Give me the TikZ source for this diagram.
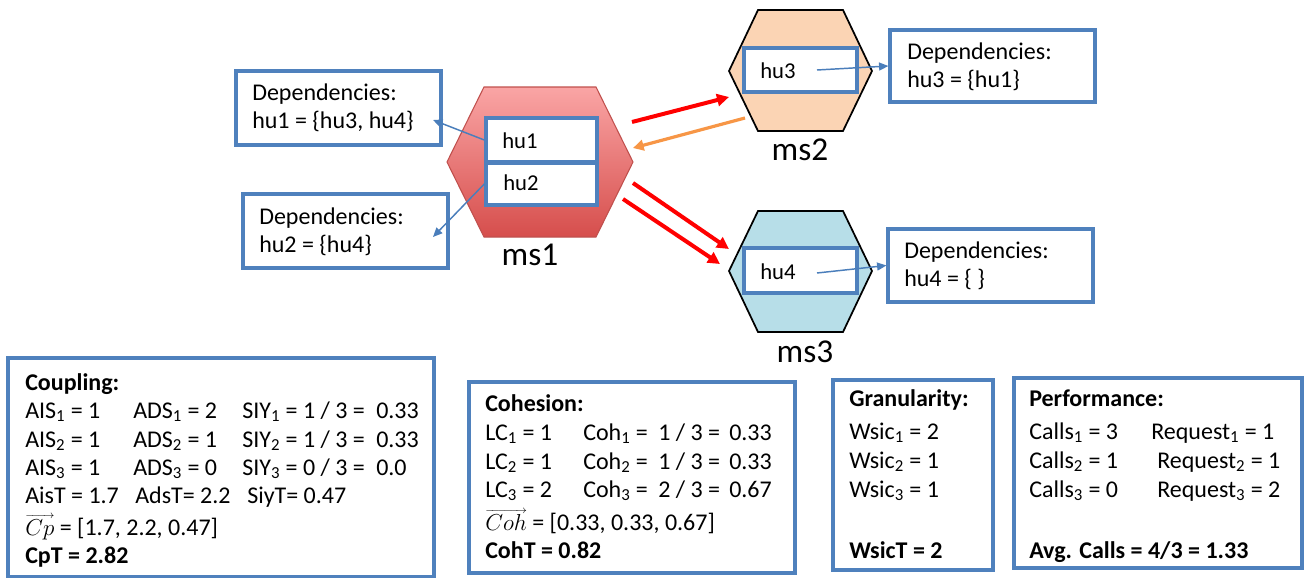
\documentclass[tikz,border=0pt]{standalone}
\usepackage{fontspec}
\setmainfont{Carlito}
\usetikzlibrary{arrows.meta,fit}
\definecolor{boxblue}{RGB}{79,129,189}
\definecolor{linkblue}{RGB}{74,126,187}
\definecolor{callred}{RGB}{255,0,0}
\definecolor{replyorange}{RGB}{247,150,70}
\definecolor{msonetop}{RGB}{250,165,165}
\definecolor{msonebot}{RGB}{214,78,76}
\definecolor{msoneline}{RGB}{192,80,77}
\definecolor{mstwofill}{RGB}{251,212,180}
\definecolor{msthreefill}{RGB}{183,222,232}
% vector symbol: italic letters with a thin arrow set close above them
\newcommand{\vecsym}[1]{\begingroup
  \setbox0\hbox{$#1$}%
  \hbox{\rlap{\raisebox{\dimexpr\ht0+0.2pt\relax}{\hbox to \wd0{\fontsize{8}{8}\selectfont\rightarrowfill}}}\box0}%
  \endgroup}
\begin{document}
\begin{tikzpicture}[x=0.75pt,y=-0.75pt,
  txt/.style={inner sep=0pt,anchor=base west,font=\fontsize{18}{21}\selectfont},
  txtb/.style={txt,font=\fontsize{18}{21}\selectfont\bfseries},
  hutxt/.style={inner sep=0pt,anchor=base west,font=\fontsize{17}{20}\selectfont},
  mstxt/.style={inner sep=0pt,anchor=base,font=\fontsize{25}{28}\selectfont},
  panel/.style={draw=boxblue,line width=2.4pt,fill=white,inner sep=0pt},
  hubox/.style={draw=boxblue,line width=2.6pt,fill=white,inner sep=0pt},
  link/.style={draw=linkblue,line width=1.1pt,-{Triangle[length=7pt,width=6pt]}},
  call/.style={draw=callred,line width=3pt,-{Triangle[length=9pt,width=9pt]}},
  reply/.style={draw=replyorange,line width=2.4pt,-{Triangle[length=8pt,width=8pt]}},
  hexline/.style={draw=black,line width=1.3pt}]
\useasboundingbox (0,0) rectangle (1304,578);

% ---- microservices (hexagons) ----
\path[top color=msonetop,bottom color=msonebot,draw=msoneline,line width=0.8pt]
  (447,162) -- (484,87) -- (596,87) -- (633,162) -- (596,237) -- (484,237) -- cycle;
\path[hexline,fill=mstwofill]
  (729,71) -- (758,10) -- (843,10) -- (872,71) -- (843,131) -- (758,131) -- cycle;
\path[hexline,fill=msthreefill]
  (729,271) -- (758,211) -- (843,211) -- (872,271) -- (843,332) -- (758,332) -- cycle;

\node[mstxt] (ms1) at (530,265) {ms1};
\node[mstxt] (ms2) at (800,160) {ms2};
\node[mstxt] (ms3) at (805,362) {ms3};

% ---- handled units inside the microservices ----
\node[hubox,fit={(486,118)(597,162)}] (hu1) {};
\node[hubox,fit={(486,163)(597,205)}] (hu2) {};
\node[hubox,fit={(744,48)(857,92)}] (hu3) {};
\node[hubox,fit={(744,248)(857,293)}] (hu4) {};
\node[hutxt] (hu1t) at (502,148) {hu1};
\node[hutxt] (hu2t) at (503,190) {hu2};
\node[hutxt] (hu3t) at (760,78) {hu3};
\node[hutxt] (hu4t) at (760,279) {hu4};

% ---- dependency boxes ----
\node[panel,fit={(236,71)(441,145)}] (dep1) {};
\node[txt] (dep1a) at (252,100) {Dependencies:};
\node[txt] (dep1b) at (252,128) {hu1 = \{hu3, hu4\}};

\node[panel,fit={(243,194)(448,268)}] (dep2) {};
\node[txt] (dep2a) at (259,224) {Dependencies:};
\node[txt] (dep2b) at (259,252) {hu2 = \{hu4\}};

\node[panel,fit={(890,30)(1095,102)}] (dep3) {};
\node[txt] (dep3a) at (907,59) {Dependencies:};
\node[txt] (dep3b) at (907,87) {hu3 = \{hu1\}};

\node[panel,fit={(888,229)(1093,302)}] (dep4) {};
\node[txt] (dep4a) at (904,258) {Dependencies:};
\node[txt] (dep4b) at (904,286) {hu4 = \{ \}};

% ---- dependency links ----
\coordinate (d1tip) at (433,120);
\coordinate (d2tip) at (433,237);
\coordinate (hu3src) at (817,70);
\coordinate (hu4src) at (817,273);
\draw[link] (hu1.west) -- (d1tip);
\draw[link] (hu2.west) -- (d2tip);
\draw[link] (hu3src) -- (dep3.west);
\draw[link] (hu4src) -- (dep4.west);

% ---- calls between microservices ----
\coordinate (c1s) at (632,122);  \coordinate (c1e) at (729,97);
\coordinate (r1s) at (745,118);  \coordinate (r1e) at (633,148);
\coordinate (c2s) at (633,183);  \coordinate (c2e) at (729,249);
\coordinate (c3s) at (623,199);  \coordinate (c3e) at (720,264);
\draw[call] (c1s) -- (c1e);
\draw[reply] (r1s) -- (r1e);
\draw[call] (c2s) -- (c2e);
\draw[call] (c3s) -- (c3e);

% ---- coupling ----
\node[panel,fit={(8,358)(434,577)}] (coupling) {};
\node[txtb] (cplh) at (25,390) {Coupling:};
\node[txt] (ais1) at (25,418) {AIS\textsubscript{1} = 1};
\node[txt] (ads1) at (133,418) {ADS\textsubscript{1} = 2};
\node[txt] (siy1) at (242,418) {SIY\textsubscript{1} = 1 / 3 =};
\node[txt] (siy1v) at (376,418) {0.33};
\node[txt] (ais2) at (25,447) {AIS\textsubscript{2} = 1};
\node[txt] (ads2) at (133,447) {ADS\textsubscript{2} = 1};
\node[txt] (siy2) at (242,447) {SIY\textsubscript{2} = 1 / 3 =};
\node[txt] (siy2v) at (376,447) {0.33};
\node[txt] (ais3) at (25,475) {AIS\textsubscript{3} = 1};
\node[txt] (ads3) at (133,475) {ADS\textsubscript{3} = 0};
\node[txt] (siy3) at (242,475) {SIY\textsubscript{3} = 0 / 3 =};
\node[txt] (siy3v) at (376,475) {0.0};
\node[txt] (aist) at (25,503) {AisT = 1.7};
\node[txt] (adst) at (135,503) {AdsT= 2.2};
\node[txt] (siyt) at (247,503) {SiyT= 0.47};
\node[txt] (cpvec) at (25,535) {\vecsym{Cp} = [1.7, 2.2, 0.47]};
\node[txtb] (cpt) at (25,563) {CpT = 2.82};

% ---- cohesion ----
\node[panel,fit={(469,382)(795,573)}] (cohesion) {};
\node[txtb] (cohh) at (485,411) {Cohesion:};
\node[txt] (lc1) at (485,440) {LC\textsubscript{1} = 1};
\node[txt] (coh1) at (583,440) {Coh\textsubscript{1} =};
\node[txt] (coh1f) at (658,440) {1 / 3 =};
\node[txt] (coh1v) at (729,440) {0.33};
\node[txt] (lc2) at (485,469) {LC\textsubscript{2} = 1};
\node[txt] (coh2) at (583,469) {Coh\textsubscript{2} =};
\node[txt] (coh2f) at (658,469) {1 / 3 =};
\node[txt] (coh2v) at (729,469) {0.33};
\node[txt] (lc3) at (485,497) {LC\textsubscript{3} = 2};
\node[txt] (coh3) at (583,497) {Coh\textsubscript{3} =};
\node[txt] (coh3f) at (658,497) {2 / 3 =};
\node[txt] (coh3v) at (729,497) {0.67};
\node[txt] (cohvec) at (485,530) {\vecsym{Coh} = [0.33, 0.33, 0.67]};
\node[txtb] (coht) at (485,558) {CohT = 0.82};

% ---- granularity ----
\node[panel,fit={(833,380)(993,570)}] (granularity) {};
\node[txtb] (grh) at (849,406) {Granularity:};
\node[txt] (ws1) at (849,439) {Wsic\textsubscript{1} = 2};
\node[txt] (ws2) at (849,468) {Wsic\textsubscript{2} = 1};
\node[txt] (ws3) at (849,497) {Wsic\textsubscript{3} = 1};
\node[txtb] (wst) at (849,558) {WsicT = 2};

% ---- performance ----
\node[panel,fit={(1014,378)(1302,568)}] (performance) {};
\node[txtb] (pfh) at (1029,406) {Performance:};
\node[txt] (cl1) at (1029,439) {Calls\textsubscript{1} = 3};
\node[txt] (rq1) at (1151,439) {Request\textsubscript{1} = 1};
\node[txt] (cl2) at (1029,468) {Calls\textsubscript{2} = 1};
\node[txt] (rq2) at (1157,468) {Request\textsubscript{2} = 1};
\node[txt] (cl3) at (1029,497) {Calls\textsubscript{3} = 0};
\node[txt] (rq3) at (1157,497) {Request\textsubscript{3} = 2};
\node[txtb] (avg) at (1029,558) {Avg. Calls = 4/3 = 1.33};
\end{tikzpicture}
\end{document}
